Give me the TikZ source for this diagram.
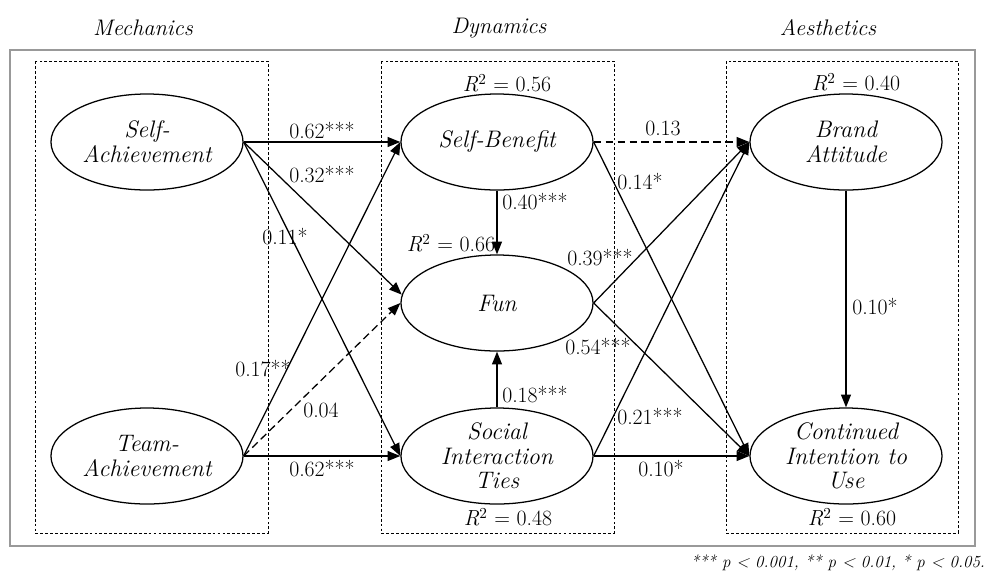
\documentclass[tikz,border=0pt]{standalone}
\usepackage{fontspec}
\usetikzlibrary{shapes.geometric,arrows.meta}
\begin{document}
\begin{tikzpicture}
    [%%%%%%%%%%%%%%%%%%%%%%%%%%%%%%
        x=0.025cm, y=-0.025cm,
        construct/.style={ellipse,draw=black,line width=0.9pt,minimum width=4.8cm,minimum height=2.4cm,inner sep=0pt,align=center,font=\fontsize{17}{17.5}\selectfont\itshape},
        effect/.style={draw=black,line width=0.9pt,-{Triangle[length=9pt,width=7pt]}},
        weakeffect/.style={effect,dash pattern=on 5.5pt off 3pt},
        coef/.style={inner sep=1pt,font=\fontsize{15.5}{17}\selectfont},
        layer/.style={font=\fontsize{16}{17}\selectfont\itshape},
        group/.style={draw=black,line width=0.5pt,dash pattern=on 2pt off 1.5pt},
    ]%%%%%%%%%%%%%%%%%%%%%%%%%%%%%%

\useasboundingbox (0,0) rectangle (992,581);
\draw[gray!80,line width=1pt] (10,50) rectangle (975,546);
\foreach \xa/\xb in {35/268,381/614,726/958}{
    \draw[group] (\xa,61) rectangle (\xb,533);
}

\node[layer] (mech) at (143,28){Mechanics};
\node[layer] (dyn) at (499,28){Dynamics};
\node[layer] (aes) at (828,28){Aesthetics};

\node[construct] (sa) at (147,142){Self-\\Achievement};
\node[construct] (ta) at (147,456){Team-\\Achievement};
\node[construct] (sb) at (497,142){Self-Benefit};
\node[construct] (fun) at (497,303){Fun};
\node[construct] (sit) at (497,456){Social\\Interaction\\Ties};
\node[construct] (ba) at (846,142){Brand\\Attitude};
\node[construct] (ci) at (846,456){Continued\\Intention to\\Use};

\node[coef] (r-sb) at (507,83){\textit{R}\textsuperscript{2} = 0.56};
\node[coef] (r-fun) at (451,243){\textit{R}\textsuperscript{2} = 0.66};
\node[coef] (r-sit) at (508,517){\textit{R}\textsuperscript{2} = 0.48};
\node[coef] (r-ba) at (856,82){\textit{R}\textsuperscript{2} = 0.40};
\node[coef] (r-ci) at (852,517){\textit{R}\textsuperscript{2} = 0.60};

\draw[effect] (sa.east) -- (sb.west);
\draw[effect] (sa.east) -- (fun.175);
\draw[effect] (sa.east) -- (sit.west);
\draw[effect] (ta.east) -- (sb.west);
\draw[weakeffect] (ta.east) -- (fun.west);
\draw[effect] (ta.east) -- (sit.west);
\draw[effect] (sb.south) -- (fun.north);
\draw[effect] (sit.north) -- (fun.south);
\draw[weakeffect] (sb.east) -- (ba.west);
\draw[effect] (sb.east) -- (ci.west);
\draw[effect] (fun.east) -- (ba.west);
\draw[effect] (fun.east) -- (ci.west);
\draw[effect] (sit.east) -- (ba.west);
\draw[effect] (sit.east) -- (ci.west);
\draw[effect] (ba.south) -- (ci.north);

\node[coef] (c-sa-sb) at (322,131){0.62***};
\node[coef] (c-sa-fun) at (322,175){0.32***};
\node[coef] (c-sa-sit) at (285,237){0.11*};
\node[coef] (c-ta-sb) at (263,369){0.17**};
\node[coef] (c-ta-fun) at (321,410){0.04};
\node[coef] (c-ta-sit) at (322,468){0.62***};
\node[coef] (c-sb-fun) at (535,202){0.40***};
\node[coef] (c-sit-fun) at (535,395){0.18***};
\node[coef] (c-sb-ba) at (663,128){0.13};
\node[coef] (c-sb-ci) at (640,182){0.14*};
\node[coef] (c-fun-ba) at (600,258){0.39***};
\node[coef] (c-fun-ci) at (598,347){0.54***};
\node[coef] (c-sit-ba) at (650,417){0.21***};
\node[coef] (c-sit-ci) at (661,468){0.10*};
\node[coef] (c-ba-ci) at (875,307){0.10*};

\node[anchor=east,font=\fontsize{12}{14}\selectfont\itshape] (note) at (990,563){*** p < 0.001, ** p < 0.01, * p < 0.05.};
\end{tikzpicture}
\end{document}
